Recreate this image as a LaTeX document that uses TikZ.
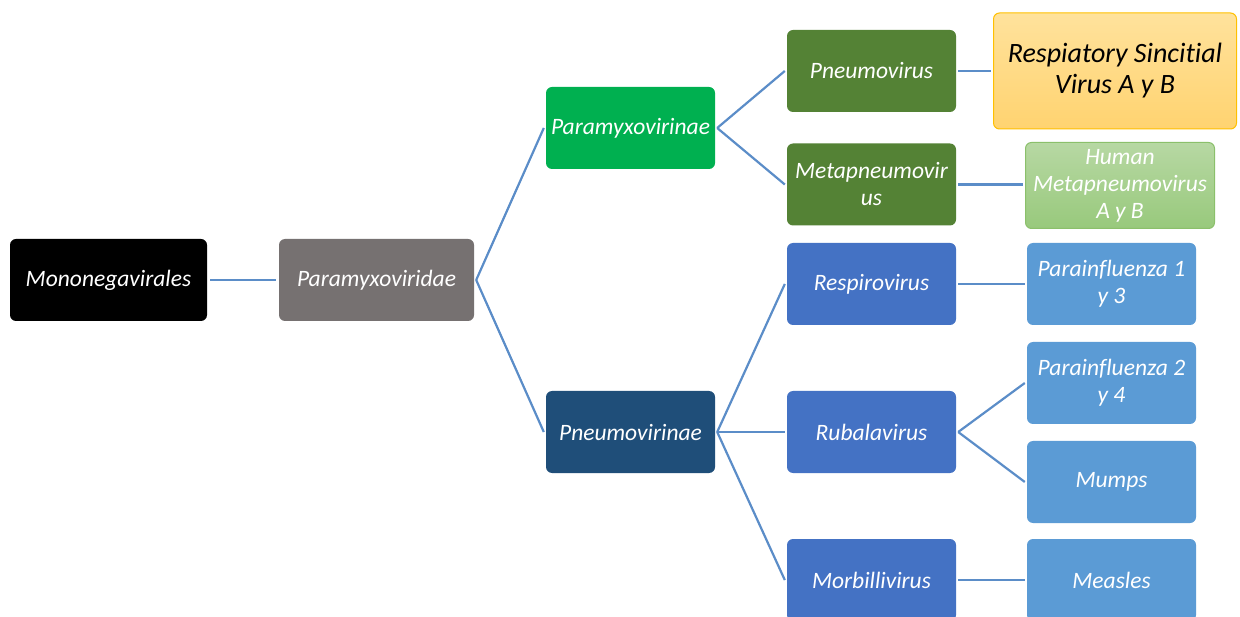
\documentclass[tikz,border=0pt]{standalone}
\usepackage{fontspec}
\setmainfont{Carlito}[Ligatures=NoCommon]
\definecolor{cBlack}{HTML}{000000}
\definecolor{cGray}{HTML}{767171}
\definecolor{cBright}{HTML}{00B050}
\definecolor{cNavy}{HTML}{1F4E79}
\definecolor{cOlive}{HTML}{548235}
\definecolor{cBlue}{HTML}{4472C4}
\definecolor{cSky}{HTML}{5B9BD5}
\definecolor{cLine}{HTML}{5B8DC8}
\definecolor{cGoldTop}{HTML}{FFE29C}
\definecolor{cGoldBot}{HTML}{FFD370}
\definecolor{cGoldEdge}{HTML}{FFC000}
\definecolor{cLimeTop}{HTML}{B7D8A3}
\definecolor{cLimeBot}{HTML}{98C97C}
\definecolor{cLimeEdge}{HTML}{8BC06B}
\tikzset{
  taxon/.style={rounded corners=6pt, minimum width=169pt, minimum height=82pt,
    inner sep=1pt, align=center, text=white,
    font=\itshape\fontsize{23.5}{27}\selectfont},
  link/.style={draw=cLine, line width=2.2pt}
}
\begin{document}
\begin{tikzpicture}[x=1pt, y=-1pt]
\clip (0,0) rectangle (1240,617);
\fill[white] (0,0) rectangle (1240,617);

% order and family
\node[taxon, fill=cBlack, minimum width=197pt] (order) at (108.5,280) {Mononegavirales};
\node[taxon, fill=cGray, minimum width=195pt] (family) at (376.5,280) {Paramyxoviridae};

% subfamilies
\node[taxon, fill=cBright] (paramyxo) at (630.5,128) {Paramyxovirinae};
\node[taxon, fill=cNavy] (pneumo) at (630.5,432) {Pneumovirinae};

% genera
\node[taxon, fill=cOlive] (pneumovirus) at (871.5,71) {Pneumovirus};
\node[taxon, fill=cOlive] (metapneumo) at (871.5,184.5) {Metapneumovir\\us};
\node[taxon, fill=cBlue] (respiro) at (871.5,284) {Respirovirus};
\node[taxon, fill=cBlue] (rubula) at (871.5,432) {Rubalavirus};
\node[taxon, fill=cBlue] (morbilli) at (871.5,580) {Morbillivirus};

% species
\node[taxon, top color=cGoldTop, bottom color=cGoldBot, draw=cGoldEdge, line width=1pt,
  minimum width=243pt, minimum height=116pt, text=black,
  font=\itshape\fontsize{28}{31}\selectfont] (rsv) at (1115,71)
  {Respiatory Sincitial\\Virus A y B};
\node[taxon, top color=cLimeTop, bottom color=cLimeBot, draw=cLimeEdge, line width=1pt,
  minimum width=189pt, minimum height=86pt] (hmpv) at (1120,185.5)
  {Human\\Metapneumovirus\\A y B};
\node[taxon, fill=cSky] (para13) at (1111.5,284) {Parainfluenza 1\\y 3};
\node[taxon, fill=cSky] (para24) at (1111.5,383) {Parainfluenza 2\\y 4};
\node[taxon, fill=cSky] (mumps) at (1111.5,482) {Mumps};
\node[taxon, fill=cSky] (measles) at (1111.5,580) {Measles};

% connectors: each starts just right of the parent and stops just left of the child
\draw[link] ([xshift=3pt]order.east) -- ([xshift=-3pt]family.west);
\draw[link] ([xshift=2pt]family.east) -- ([xshift=-2pt]paramyxo.west);
\draw[link] ([xshift=2pt]family.east) -- ([xshift=-2pt]pneumo.west);
\draw[link] ([xshift=2pt]paramyxo.east) -- ([xshift=-2pt]pneumovirus.west);
\draw[link] ([xshift=2pt]paramyxo.east) -- ([xshift=-2pt]metapneumo.west);
\draw[link] ([xshift=2pt]pneumo.east) -- ([xshift=-2pt]respiro.west);
\draw[link] ([xshift=2pt]pneumo.east) -- ([xshift=-2pt]rubula.west);
\draw[link] ([xshift=2pt]pneumo.east) -- ([xshift=-2pt]morbilli.west);
\draw[link] ([xshift=2pt]pneumovirus.east) -- ([xshift=-2pt]pneumovirus.east -| rsv.west);
\draw[link] ([xshift=2pt]metapneumo.east) -- ([xshift=-2pt]metapneumo.east -| hmpv.west);
\draw[link] ([xshift=2pt]respiro.east) -- ([xshift=-2pt]para13.west);
\draw[link] ([xshift=2pt]rubula.east) -- ([xshift=-2pt]para24.west);
\draw[link] ([xshift=2pt]rubula.east) -- ([xshift=-2pt]mumps.west);
\draw[link] ([xshift=2pt]morbilli.east) -- ([xshift=-2pt]measles.west);
\end{tikzpicture}
\end{document}
